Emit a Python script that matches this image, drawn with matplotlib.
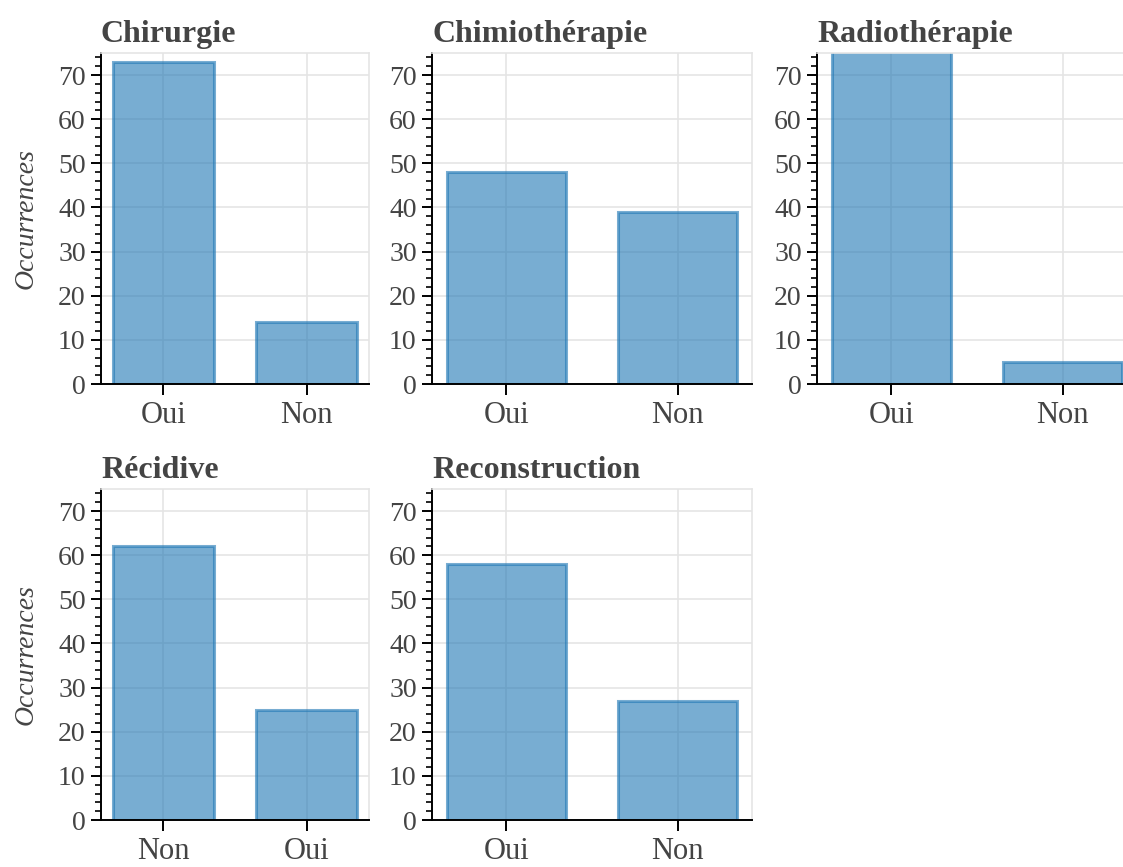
import matplotlib.pyplot as plt
from matplotlib.ticker import MultipleLocator

plt.rcParams['font.family'] = ['Liberation Serif', 'DejaVu Serif']

# Données
titres = ['Chirurgie', 'Chimiothérapie', 'Radiothérapie', 'Récidive', 'Reconstruction']
chirurgie_cat = ['Oui', 'Non']
chirurgie_val = [73, 14]
chimio_cat = ['Oui', 'Non']
chimio_val = [48, 39]
radio_cat = ['Oui', 'Non']
radio_val = [82, 5]
recidive_cat = ['Non', 'Oui']
recidive_val = [62, 25]
reconstruction_cat = ['Oui', 'Non']
reconstruction_val = [58, 27]

categories = [chirurgie_cat, chimio_cat, radio_cat, recidive_cat, reconstruction_cat]
valeurs = [chirurgie_val, chimio_val, radio_val, recidive_val, reconstruction_val]

W, H = 1123, 867
fig = plt.figure(figsize=(W / 100, H / 100), dpi=100)

# positions des axes en pixels (gauche, haut, largeur, bas)
lefts = [101, 432, 817, 101, 432]
widths = [268, 320, 320, 268, 320]
tops = [53, 53, 53, 489, 489]
bottoms = [384, 384, 384, 820, 820]

gris = '#444444'
bleu = '#1f77b4'

for i in range(5):
    ax = fig.add_axes([lefts[i] / W, 1 - bottoms[i] / H,
                       widths[i] / W, (bottoms[i] - tops[i]) / H])
    ax.set_axisbelow(True)
    ax.grid(True, color='#e5e5e5', linewidth=1.2)
    ax.bar(categories[i], valeurs[i], width=0.7, color=bleu, alpha=0.6,
           edgecolor=bleu, linewidth=2.2)
    ax.set_ylim(0, 75)
    ax.yaxis.set_major_locator(MultipleLocator(10))
    ax.yaxis.set_minor_locator(MultipleLocator(2))
    ax.tick_params(axis='y', which='major', length=7, width=1.4, labelsize=20,
                   labelcolor=gris, pad=4)
    ax.tick_params(axis='y', which='minor', length=4, width=1.2)
    ax.tick_params(axis='x', length=8, width=1.4, labelsize=22, labelcolor=gris, pad=4)
    for s in ['top', 'right']:
        ax.spines[s].set_color('#e5e5e5')
        ax.spines[s].set_linewidth(1.2)
    for s in ['left', 'bottom']:
        ax.spines[s].set_color('black')
        ax.spines[s].set_linewidth(1.4)
    ax.set_title(titres[i], loc='left', fontsize=23, fontweight='bold', color=gris, pad=8)
    if lefts[i] == 101:
        ax.set_ylabel('Occurrences', fontsize=20, style='italic', color=gris, labelpad=14)

plt.savefig('out.png', dpi=100)
